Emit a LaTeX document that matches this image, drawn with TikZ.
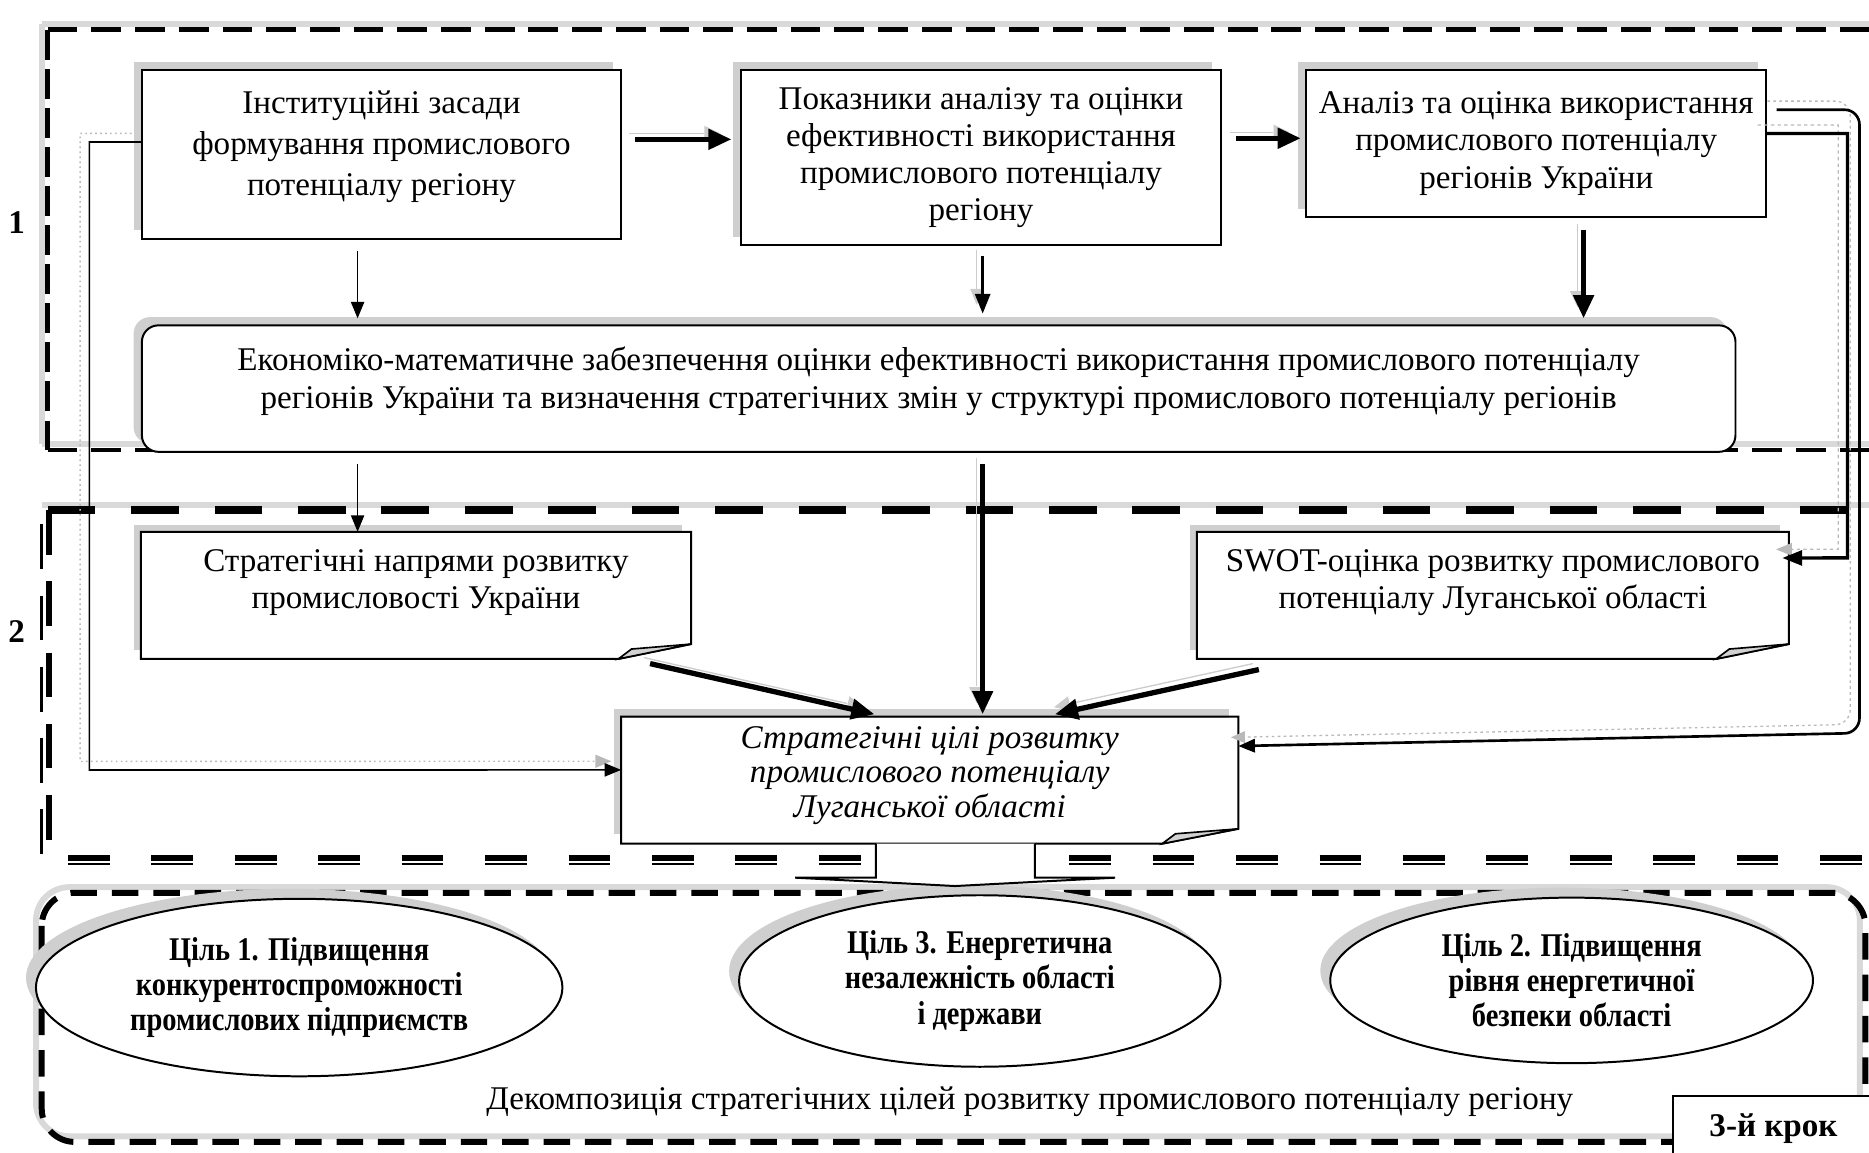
\documentclass[tikz,border=0pt]{standalone}
\usepackage{fontspec}
\setmainfont{Liberation Serif}
\newfontfamily\goalfont{Liberation Serif}[FakeStretch=0.86]
\usetikzlibrary{arrows.meta,shapes.geometric,shadows,backgrounds}

\tikzset{
  shd/.style={general shadow={fill=gray!38,shadow xshift=-2.5pt,shadow yshift=2.5pt}},
  box/.style={draw,fill=white,line width=0.6pt,align=center,inner sep=2pt,
    font=\fontsize{10}{11.2}\selectfont,shd},
  notebox/.style={box,draw=none},
  goal/.style={ellipse,draw,fill=white,line width=0.6pt,align=center,inner sep=0pt,
    font=\goalfont\bfseries\fontsize{10}{10.6}\selectfont,
    general shadow={fill=gray!38,shadow xshift=-3pt,shadow yshift=3pt}},
  fold/.style={fill=gray!35,draw,line width=0.5pt},
  ashd/.style={preaction={draw=gray!40,transform canvas={shift={(-1.8pt,1.8pt)}}}},
  dshd/.style={preaction={draw=gray!55,densely dotted,transform canvas={shift={(-2.8pt,2.6pt)}}}},
  fshd/.style={preaction={draw=gray!30,solid,line width=1.8pt,transform canvas={shift={(-1.7pt,1.7pt)}}}},
  thinarr/.style={-{Triangle[length=5pt,width=4pt]},line width=0.5pt},
  midarr/.style={-{Triangle[length=6pt,width=4.5pt]},line width=1pt},
  thickarr/.style={-{Triangle[length=7pt,width=6pt]},line width=1.6pt,ashd},
  frameoneh/.style={line width=1.4pt,dash pattern=on 9pt off 4.2pt,fshd},
  frameonev/.style={line width=1.5pt,dash pattern=on 9pt off 2.8pt,fshd},
  frametwoh/.style={line width=2.4pt,dash pattern=on 14.4pt off 10.8pt,fshd},
  frametwov/.style={line width=1.8pt,dash pattern=on 13.5pt off 8pt},
  framethree/.style={line width=1.8pt,dash pattern=on 8pt off 4.5pt,rounded corners=10pt,fshd},
}

\begin{document}
\begin{tikzpicture}[x=0.36pt,y=-0.36pt]
  \useasboundingbox (0,0) rectangle (1568,967);

  %krok 1
  \node[box,minimum width=144.7pt,minimum height=50.9pt,text depth=6.6pt,font=\fontsize{10}{12.4}\selectfont] (inst) at (320,129.4)
    {Інституційні засади\\ формування промислового\\ потенціалу регіону};
  \node[box,minimum width=144.7pt,minimum height=52.8pt] (pokaz) at (823,132.1)
    {Показники аналізу та оцінки\\ ефективності використання\\ промислового потенціалу\\ регіону};
  \node[box,minimum width=138.8pt,minimum height=44.4pt] (analiz) at (1288.8,120.4)
    {Аналіз та оцінка використання\\ промислового потенціалу\\ регіонів України};
  \node[box,rounded corners=5pt,minimum width=481.3pt,minimum height=38.2pt,text depth=6.6pt,font=\fontsize{10}{11.5}\selectfont] (ekon) at (787.5,326)
    {Економіко-математичне забезпечення оцінки ефективності використання промислового потенціалу\\
     регіонів України та визначення стратегічних змін у структурі промислового потенціалу регіонів};

  %krok 2
  \node[notebox,minimum width=165.6pt,minimum height=37.8pt,text depth=10pt] (napr) at (349,499.5)
    {Стратегічні напрями розвитку\\ промисловості України};
  \node[notebox,minimum width=178.2pt,minimum height=37.8pt,text depth=10pt] (swot) at (1252.5,499.5)
    {SWOT-оцінка розвитку промислового\\ потенціалу Луганської області};
  \node[notebox,minimum width=185.8pt,minimum height=37.8pt,text depth=5pt,font=\fontsize{10}{10.4}\selectfont\itshape] (cili) at (780,654.5)
    {Стратегічні цілі розвитку\\ промислового потенціалу\\ Луганської області};

  %zagnuti kuty
  \foreach \n/\w in {napr/22pt,swot/22pt,cili/23pt}{
    \draw[line width=0.6pt] (\n.north west) -- (\n.north east) -- ([yshift=4.5pt]\n.south east)
      -- ([xshift=-\w]\n.south east) -- (\n.south west) -- cycle;
    \draw[fold] ([yshift=4.5pt]\n.south east) -- ([xshift=-\w]\n.south east)
      -- ([xshift=-\w+4pt,yshift=3pt]\n.south east) -- cycle;
  }

  %krok 3
  \node[goal,minimum width=159pt,minimum height=53.6pt] (goal1) at (251,828.5)
    {Ціль 1. Підвищення\\ конкурентоспроможності\\ промислових підприємств};
  \node[goal,minimum width=145.4pt,minimum height=51.8pt] (goal3) at (822,823)
    {Ціль 3. Енергетична\\ незалежність області\\ і держави};
  \node[goal,minimum width=145.8pt,minimum height=50pt] (goal2) at (1318.5,822.5)
    {Ціль 2. Підвищення\\ рівня енергетичної\\ безпеки області};
  \node[font=\fontsize{10}{12}\selectfont] (dekomp) at (864,924)
    {Декомпозиція стратегічних цілей розвитку промислового потенціалу регіону};
  \node[draw,fill=white,line width=0.6pt,font=\bfseries\fontsize{10}{12}\selectfont,
    minimum width=60.5pt,minimum height=20pt,anchor=north west] (krok) at (1403,918.6) {3-й крок};

  %nomery
  \node[font=\bfseries\fontsize{10}{12}\selectfont] (lab1) at (14,187) {1};
  \node[font=\bfseries\fontsize{10}{12}\selectfont] (lab2) at (14,530) {2};

  %ramky
  \begin{scope}[on background layer]
    \draw[frameoneh] (40,25) -- (1580,25);
    \draw[frameoneh] (40,377.5) -- (1580,377.5);
    \draw[frameonev] (40,25) -- (40,377.5);
    \draw[frametwoh] (40,428) -- (1580,428);
    \draw[frametwov] (41,428) -- (41,719);
    \draw[frametwov,line width=0.8pt] (35,440) -- (35,719);
    \draw[line width=1.7pt,dash pattern=on 12.6pt off 12.6pt] (57,719.7) -- (1580,719.7);
    \draw[line width=0.7pt,dash pattern=on 12.6pt off 12.6pt] (57,724.7) -- (1580,724.7);
    \draw[framethree] (35,749) rectangle (1565,958);
  \end{scope}

  %strilky krok 1
  \draw[thickarr,shorten <=4pt,shorten >=2.7pt] ([yshift=4.5pt]inst.east) -- ([yshift=4.5pt]inst.east -| pokaz.west);
  \draw[thickarr,shorten <=4.3pt,shorten >=1.4pt] ([yshift=5.8pt]pokaz.east) -- ([yshift=5.8pt]pokaz.east -| analiz.west);
  \draw[thinarr,shorten <=3.6pt,shorten >=1.8pt] ([xshift=-7.2pt]inst.south) -- ([xshift=-7.2pt]inst.south |- ekon.north);
  \draw[midarr,ashd,shorten <=3pt,shorten >=3.2pt] ([xshift=0.5pt]pokaz.south) -- ([xshift=0.5pt]pokaz.south |- ekon.north);
  \draw[thickarr,shorten <=3.5pt,shorten >=1.8pt] ([xshift=14.3pt]analiz.south) -- ([xshift=14.3pt]analiz.south |- ekon.north);

  %strilky krok 2
  \draw[thinarr,shorten <=3.5pt] ([xshift=-7.2pt]inst.south |- ekon.south) -- ([xshift=-7.2pt]inst.south |- napr.north);
  \draw[thickarr,shorten <=3.5pt,shorten >=0.7pt] ([xshift=0.5pt]pokaz.south |- ekon.south) -- ([xshift=0.5pt]pokaz.south |- cili.north);
  \draw[thickarr] ([xshift=-12.4pt,yshift=-1.4pt]napr.south east) -- ([xshift=-16.7pt,yshift=0.7pt]cili.north);
  \draw[thickarr] ([xshift=18.7pt,yshift=-3.2pt]swot.south west) -- ([xshift=37.8pt,yshift=0.7pt]cili.north);

  %obhidni linii
  \coordinate (lbend) at (75,646);
  \coordinate (rbendF) at (1550,468);
  \coordinate (rbendG) at (1560,615);
  \draw[thinarr,dshd] ([yshift=3.7pt]inst.west) -| (lbend) -- ([yshift=3.1pt]cili.west);
  \draw[midarr,dshd,shorten >=-2pt] ([yshift=3pt]analiz.east) -| (rbendF) -- ([yshift=11.3pt]swot.east);
  \draw[thinarr,dshd,line width=0.8pt,rounded corners=4.5pt] ([xshift=2.9pt,yshift=10.2pt]analiz.east) -| (rbendG) -- ([yshift=10.3pt]cili.east);

  %blokova strilka do krok 3
  \draw[fill=white,line width=0.6pt] ([xshift=-16.3pt]cili.south) -- ++(0,28.5) -- ++(-67.6,0)
    -- ++(134.2,7) -- ++(134.2,-7) -- ++(-67.4,0) -- ++(0,-28.5);
\end{tikzpicture}
\end{document}
